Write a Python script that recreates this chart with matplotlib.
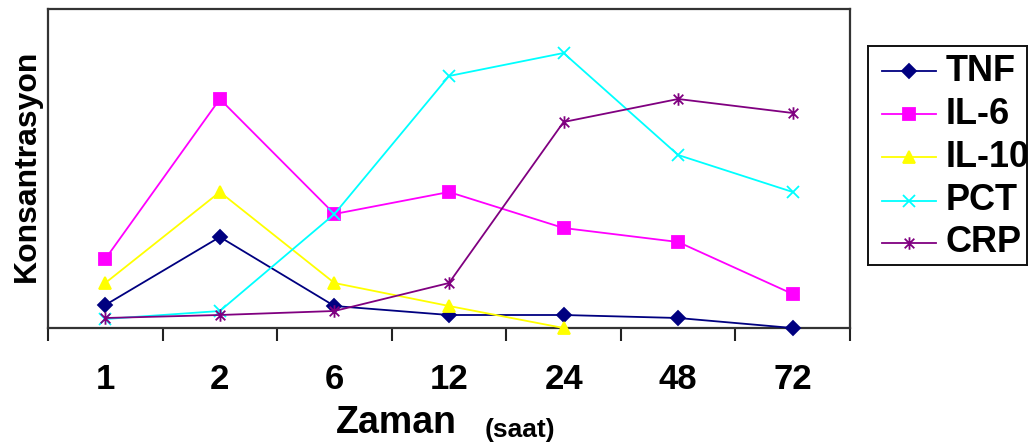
import numpy as np
import matplotlib
matplotlib.use("Agg")
import matplotlib.pyplot as plt
from matplotlib.path import Path

# Data
hours = ["1", "2", "6", "12", "24", "48", "72"]
tnf = [23, 91, 22, 13, 13, 10, 0]
il6 = [69, 229, 114, 136, 100, 86, 34]
il10 = [45, 136, 45, 22, 0, np.nan, np.nan]
pct = [9, 17, 114, 252, 275, 173, 136]
crp = [10, 13, 17, 45, 206, 229, 215]

names = ["TNF", "IL-6", "IL-10", "PCT", "CRP"]
series = [tnf, il6, il10, pct, crp]
colors = ["#000080", "#FF00FF", "#FFFF00", "#00FFFF", "#800080"]

# star marker: an x with a vertical stroke through it
star = Path([(-1, -1), (1, 1), (-1, 1), (1, -1), (0, -1.3), (0, 1.3)],
            [Path.MOVETO, Path.LINETO, Path.MOVETO, Path.LINETO, Path.MOVETO, Path.LINETO])
markers = ["D", "s", "^", "x", star]
msizes = [7, 8, 9, 8, 9]

plt.rcParams["font.family"] = ["Liberation Sans", "DejaVu Sans"]
plt.rcParams["font.weight"] = "bold"

fig = plt.figure(figsize=(10.32, 4.44), dpi=100)
fig.patch.set_facecolor("white")

ax = fig.add_axes([48/1032, 1 - 328/444, 802/1032, 319/444])
x = np.arange(len(hours))
for vals, c, m, ms in zip(series, colors, markers, msizes):
    ax.plot(x, vals, color=c, lw=1.3, marker=m, markersize=ms,
            markeredgecolor=c, markerfacecolor=c, markeredgewidth=1.3,
            clip_on=False, zorder=3)

ax.set_xlim(-0.5, len(hours) - 0.5)
ax.set_ylim(0, 319)
ax.set_yticks([])
ax.set_xticks(x)
ax.set_xticklabels(hours, fontsize=25, fontweight="bold")
ax.set_xticks(np.arange(-0.5, len(hours)), minor=True)
ax.tick_params(axis="x", which="major", length=0, pad=25)
ax.tick_params(axis="x", which="minor", length=9, width=1.5, color="#222222", direction="out")
for s in ax.spines.values():
    s.set_color("#333333")
    s.set_linewidth(1.6)

fig.text(27/1032, 1 - 166/444, "Konsantrasyon", rotation=90, fontsize=23,
         fontweight="bold", ha="center", va="center")
fig.text(336/1032, 1 - 433/444, "Zaman", fontsize=27, fontweight="bold",
         ha="left", va="baseline")
fig.text(485/1032, 1 - 437/444, "(saat)", fontsize=19, fontweight="bold",
         ha="left", va="baseline")

# Legend box, text cut off at its right border
lax = fig.add_axes([868/1032, 1 - 265/444, 159/1032, 219/444])
lax.set_xlim(868, 1027)
lax.set_ylim(265, 46)
lax.set_xticks([])
lax.set_yticks([])
for s in lax.spines.values():
    s.set_color("#111111")
    s.set_linewidth(1.4)
row_y = [71, 114, 157, 201, 243]
for name, c, m, ms, yy in zip(names, colors, markers, msizes, row_y):
    lax.plot([882, 936], [yy, yy], color=c, lw=1.3)
    lax.plot([909], [yy], color=c, marker=m, markersize=ms,
             markeredgecolor=c, markerfacecolor=c, markeredgewidth=1.3)
    lax.text(946, yy, name, fontsize=26, fontweight="bold", ha="left",
             va="center", clip_on=True)

fig.savefig("out.png", dpi=100, facecolor="white")
